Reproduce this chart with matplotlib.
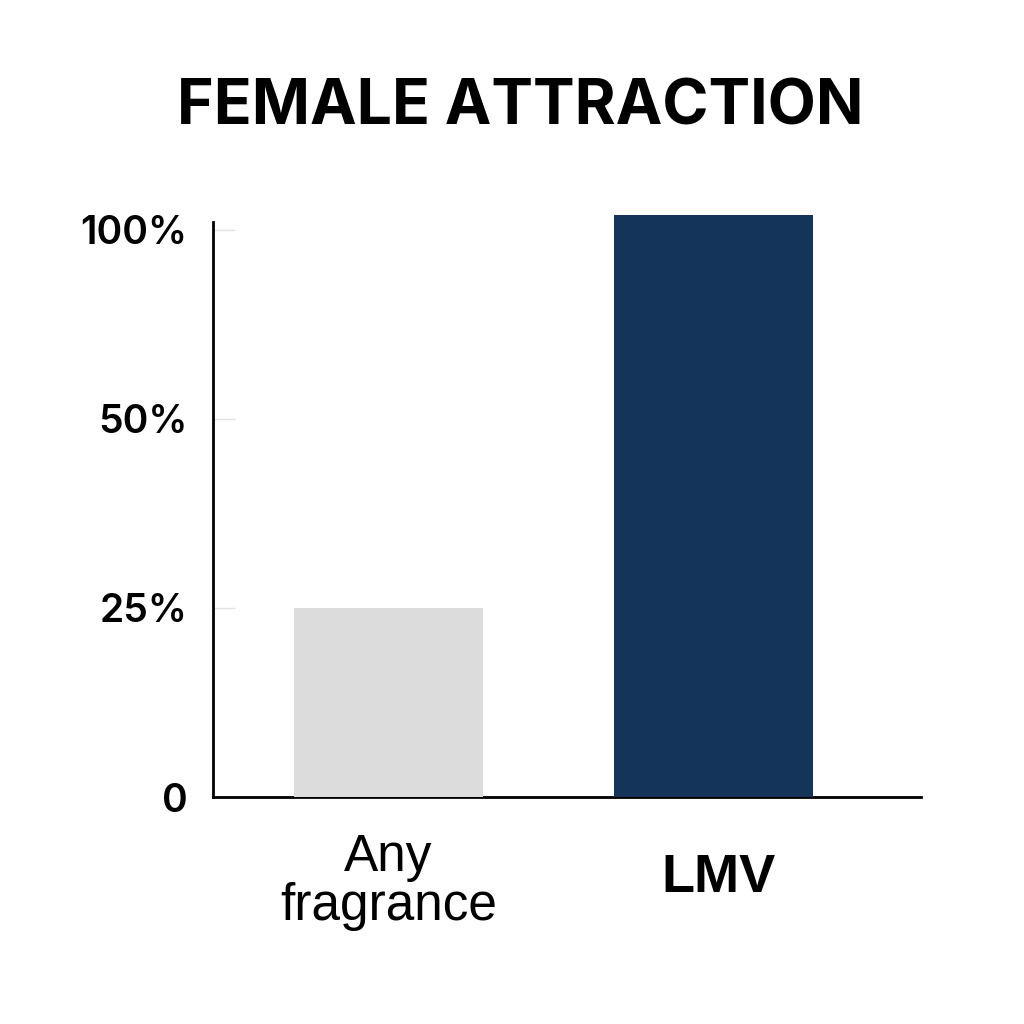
import matplotlib.pyplot as plt
import numpy as np

categories = ['Any\nfragrance', 'LMV']
values = [25, 104]
tick_vals = [0, 25, 50, 100]
tick_labels = ['0', '25%', '50%', '100%']
colors = ['#dcdcdc', '#143559']


# axis is even-spaced 0/25/50/100, so above 50 the scale is squeezed by half
def fwd(v):
    v = np.asarray(v, dtype=float)
    return np.where(v <= 50, v, 50 + (v - 50) / 2)


def inv(u):
    u = np.asarray(u, dtype=float)
    return np.where(u <= 50, u, 50 + (u - 50) * 2)


fig = plt.figure(figsize=(10.24, 10.24), dpi=100)
fig.patch.set_facecolor('white')
ax = fig.add_axes([213 / 1024, 1 - 797 / 1024, 708 / 1024, 575 / 1024])

ax.set_yscale('function', functions=(fwd, inv))
ax.set_ylim(0, 102.1)
ax.set_xlim(-0.54, 1.638)

bars = ax.bar([0, 1], values, width=[0.58, 0.61], color=colors, clip_on=False, zorder=3)

ax.set_yticks(tick_vals)
ax.set_yticklabels(tick_labels, fontsize=28, family=['Inter', 'DejaVu Sans'], fontweight='semibold')
ax.tick_params(axis='y', direction='in', length=16, width=1, color='#e2e2e2', pad=18.5)
ax.yaxis.set_minor_locator(plt.NullLocator())

ax.set_xticks([0, 1])
ax.set_xticklabels([])
ax.tick_params(axis='x', length=0)
ax.text(0, -0.062, categories[0], transform=ax.get_xaxis_transform(), ha='center', va='top',
        fontsize=37, family=['Liberation Sans', 'DejaVu Sans'], linespacing=1.02)
ax.text(1.015, -0.14, categories[1], transform=ax.get_xaxis_transform(), ha='center', va='center',
        fontsize=39, family=['Liberation Sans', 'DejaVu Sans'], fontweight='bold')

for s in ['top', 'right']:
    ax.spines[s].set_visible(False)
ax.spines['left'].set_linewidth(2)
ax.spines['bottom'].set_linewidth(2)

fig.text(0.508, 1 - 108 / 1024, 'FEMALE ATTRACTION', ha='center', va='center',
         fontsize=45, fontweight='bold', family=['Inter', 'DejaVu Sans'])

plt.savefig('out.png', dpi=100, facecolor='white')
